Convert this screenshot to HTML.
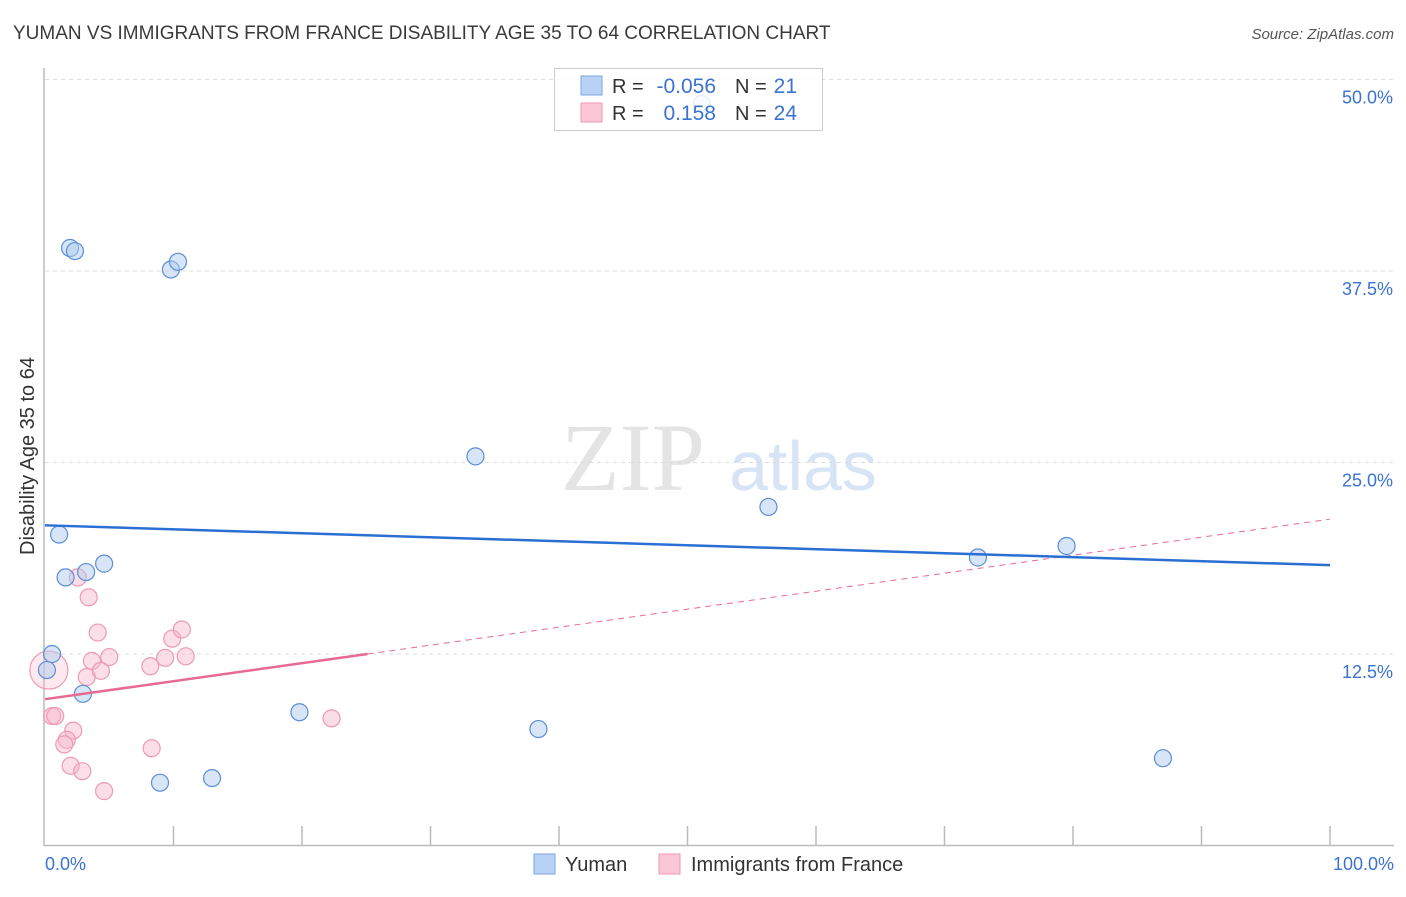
<!DOCTYPE html>
<html><head><meta charset="utf-8"><style>
html,body{margin:0;padding:0;background:#fff;}
body{width:1406px;height:892px;overflow:hidden;font-family:"Liberation Sans",sans-serif;}
</style></head><body>
<svg id="chart" width="1406" height="892" xmlns="http://www.w3.org/2000/svg">
<text x="13" y="39" font-size="19" fill="#3a3a3a">YUMAN VS IMMIGRANTS FROM FRANCE DISABILITY AGE 35 TO 64 CORRELATION CHART</text>
<text x="1394" y="39" font-size="15" font-style="italic" fill="#555" text-anchor="end">Source: ZipAtlas.com</text>
<text transform="translate(34,456) rotate(-90)" font-size="20" fill="#333" text-anchor="middle">Disability Age 35 to 64</text>
<g>
<text x="633" y="490" font-family="Liberation Serif,serif" font-size="96" fill="#e4e4e4" text-anchor="middle">ZIP</text>
<text x="803" y="490" font-size="70" fill="#d6e4f5" text-anchor="middle">atlas</text>
</g>
<g id="grid"></g><g id="axes"></g><g id="marks"></g>
<g>
<rect x="554.5" y="68.5" width="268" height="62" fill="#fff" fill-opacity="0.85" stroke="#ccc"/>
<rect x="581" y="76" width="21" height="19" fill="#b8d2f5" stroke="#7aa6e0"/>
<rect x="581" y="103" width="21" height="19" fill="#fbc6d6" stroke="#ee9ab4"/>
<text x="612" y="93" font-size="20" fill="#333">R =</text>
<text x="716" y="93" font-size="21" fill="#3b73d0" text-anchor="end">-0.056</text>
<text x="735" y="93" font-size="20" fill="#333">N =</text>
<text x="797" y="93" font-size="21" fill="#3b73d0" text-anchor="end">21</text>
<text x="612" y="120" font-size="20" fill="#333">R =</text>
<text x="716" y="120" font-size="21" fill="#3b73d0" text-anchor="end">0.158</text>
<text x="735" y="120" font-size="20" fill="#333">N =</text>
<text x="797" y="120" font-size="21" fill="#3b73d0" text-anchor="end">24</text>
</g>
<g>
<rect x="534" y="854" width="21" height="20" fill="#b8d2f5" stroke="#7aa6e0"/>
<text x="565" y="871" font-size="20" fill="#333">Yuman</text>
<rect x="659" y="854" width="21" height="20" fill="#fbc6d6" stroke="#ee9ab4"/>
<text x="691" y="871" font-size="20" fill="#333">Immigrants from France</text>
</g>
</svg>
<script>
const yTicks=[12.5,25,37.5,50];
const yTickLabels=["12.5%","25.0%","37.5%","50.0%"];
const yumanX=[1.95,2.33,9.8,10.35,33.5,56.3,72.6,79.5,1.1,1.6,3.2,4.6,0.55,0.15,2.95,19.8,38.4,8.95,13.0,87.0,51.1];
const yumanY=[39.0,38.8,37.6,38.1,25.4,22.1,18.8,19.55,20.3,17.5,17.85,18.4,12.5,11.45,9.9,8.7,7.6,4.1,4.4,5.7,48.4];
const franceX=[2.55,3.4,4.1,3.65,5.0,3.25,4.35,8.2,9.35,9.9,10.65,10.95,0.55,0.8,2.2,1.7,1.5,2.0,2.9,4.6,8.3,22.3,0.3];
const franceY=[17.5,16.2,13.9,12.05,12.3,11.0,11.4,11.7,12.25,13.5,14.1,12.35,8.45,8.45,7.5,6.9,6.6,5.2,4.85,3.55,6.35,8.3,11.45];
const yumanTrend=[20.9,18.3];
const franceTrend=[9.55,21.3];
const franceSolidEnd=25.1;

const NS="http://www.w3.org/2000/svg";
const X=v=>45+v*12.85;
const Y=v=>845.5-v*15.32;
function mk(tag,attrs,parent){const e=document.createElementNS(NS,tag);for(const k in attrs)e.setAttribute(k,attrs[k]);document.getElementById(parent).appendChild(e);return e;}

yTicks.forEach((t,i)=>{
 const g=mk('line',{x1:45,x2:1394,y1:Y(t),y2:Y(t),stroke:'#dcdcdc','stroke-dasharray':'4,4'},'grid');
 
 
 const l=mk('text',{x:1393,y:Y(t)+24,'font-size':18,fill:'#3b73d0','text-anchor':'end'},'grid');
 l.textContent=yTickLabels[i];
 
 
});
let a=mk('line',{x1:44,x2:44,y1:68,y2:846,stroke:'#bbb','stroke-width':1.5},'axes');


a=mk('line',{x1:44,x2:1394,y1:845.5,y2:845.5,stroke:'#bbb','stroke-width':1.5},'axes');


for(let i=1;i<=10;i++){
 const t=mk('line',{x1:X(i*10),x2:X(i*10),y1:826,y2:845,stroke:'#bbb','stroke-width':1.5},'axes');
 
 
}
let tl=mk('text',{x:45,y:870,'font-size':18,fill:'#3b73d0'},'axes');tl.textContent='0.0%';


tl=mk('text',{x:1394,y:870,'font-size':18,fill:'#3b73d0','text-anchor':'end'},'axes');tl.textContent='100.0%';



franceX.forEach((x,i)=>{
 const big=i===franceX.length-1;
 const c=mk('circle',{cx:X(x),cy:Y(franceY[i]),r:big?19:8.5,fill:'#f7b6cb','fill-opacity':big?0.3:0.45,stroke:'#ee9ab4','stroke-width':1.2},'marks');
 
 
});
yumanX.forEach((x,i)=>{
 const c=mk('circle',{cx:X(x),cy:Y(yumanY[i]),r:8.5,fill:'#b0cbf0','fill-opacity':0.5,stroke:'#5b8ed8','stroke-width':1.2},'marks');
 
 
});
const slope=(franceTrend[1]-franceTrend[0])/100;
let ln=mk('line',{x1:X(franceSolidEnd),y1:Y(franceTrend[0]+slope*franceSolidEnd),x2:X(100),y2:Y(franceTrend[1]),stroke:'#e86a92','stroke-width':1,'stroke-dasharray':'6,5'},'marks');


ln=mk('line',{x1:X(0),y1:Y(franceTrend[0]),x2:X(franceSolidEnd),y2:Y(franceTrend[0]+slope*franceSolidEnd),stroke:'#e86a92','stroke-width':2.5},'marks');


ln=mk('line',{x1:X(0),y1:Y(yumanTrend[0]),x2:X(100),y2:Y(yumanTrend[1]),stroke:'#2a6fd4','stroke-width':2.5},'marks');


</script>
</body></html>
